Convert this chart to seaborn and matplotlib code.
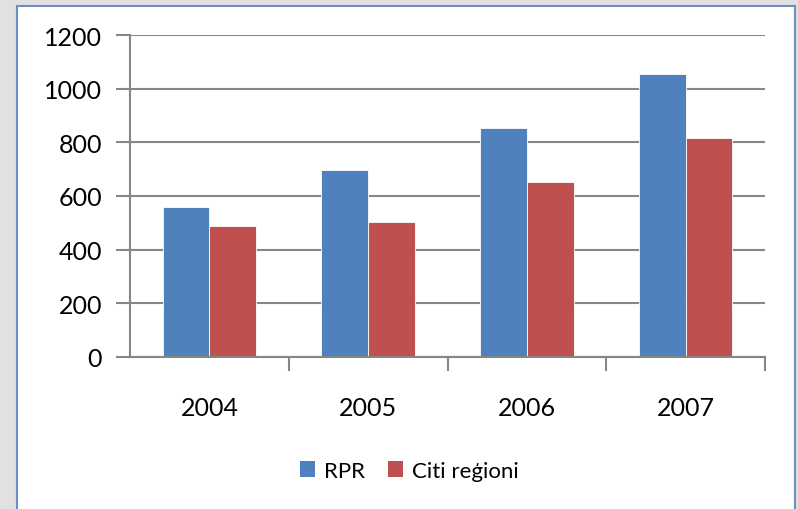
import matplotlib
matplotlib.use("Agg")
import matplotlib.pyplot as plt
import matplotlib.patches as mpatches
import seaborn as sns
import pandas as pd

# chart data
years = ["2004", "2005", "2006", "2007"]
rpr = [558, 697, 853, 1054]
citi = [487, 502, 651, 815]
series_names = ["RPR", "Citi reģioni"]
colors = ["#4f81bd", "#c0504d"]

df = pd.DataFrame({
    "year": years * 2,
    "value": rpr + citi,
    "series": [series_names[0]] * len(years) + [series_names[1]] * len(years),
})

sns.set_theme(style="white")
plt.rcParams["font.family"] = ["Lato", "DejaVu Sans"]

fig = plt.figure(figsize=(7.98, 5.10), dpi=100)
fig.patch.set_facecolor("#e1e1e1")

# white chart box with blue border
box = mpatches.Rectangle((17 / 798, -0.05), (795 - 17) / 798, 1.05 - 7 / 510,
                         transform=fig.transFigure, facecolor="white",
                         edgecolor="#6a8fc7", linewidth=1.5, zorder=-1)
fig.patches.append(box)

ax = fig.add_axes([130 / 798, 1 - 357.7 / 510, (765 - 130) / 798, (357.7 - 36.3) / 510])
ax.set_facecolor("none")
ax.set_zorder(1)

sns.barplot(data=df, x="year", y="value", hue="series", palette=colors,
            saturation=1, width=0.59, gap=0, linewidth=0.6, edgecolor="#ffffff",
            ax=ax, legend=False, zorder=3)

grid_grey = "#868686"
ax.set_ylim(0, 1200)
ax.set_yticks(range(0, 1201, 200))
ax.set_xlim(-0.5, 3.5)
ax.yaxis.grid(True, color=grid_grey, linewidth=1.5)
ax.set_axisbelow(True)

for side in ["top", "right"]:
    ax.spines[side].set_visible(False)
for side in ["left", "bottom"]:
    ax.spines[side].set_color(grid_grey)
    ax.spines[side].set_linewidth(1.5)
    ax.spines[side].set_zorder(4)

ax.set_xticks(range(len(years)))
ax.set_xticklabels(years)
ax.set_xticks([0.5, 1.5, 2.5, 3.5], minor=True)
ax.tick_params(axis="x", which="major", bottom=True, length=0, pad=28,
               labelsize=18, labelcolor="black")
ax.tick_params(axis="x", which="minor", bottom=True, length=10, width=1.5,
               color=grid_grey, direction="out")
ax.tick_params(axis="y", length=10, width=1.5, color=grid_grey, direction="out",
               pad=10, labelsize=18, labelcolor="black", left=True)
ax.set_xlabel("")
ax.set_ylabel("")

handles = [mpatches.Patch(facecolor=c, edgecolor="none", label=n)
           for c, n in zip(colors, series_names)]
fig.legend(handles=handles, loc="center", bbox_to_anchor=(0.513, 0.075), ncol=2,
           frameon=False, fontsize=16, handlelength=0.7, handleheight=0.7,
           handletextpad=0.4, columnspacing=1.0, labelcolor="black")

fig.savefig("out.png", dpi=100, facecolor=fig.get_facecolor())
